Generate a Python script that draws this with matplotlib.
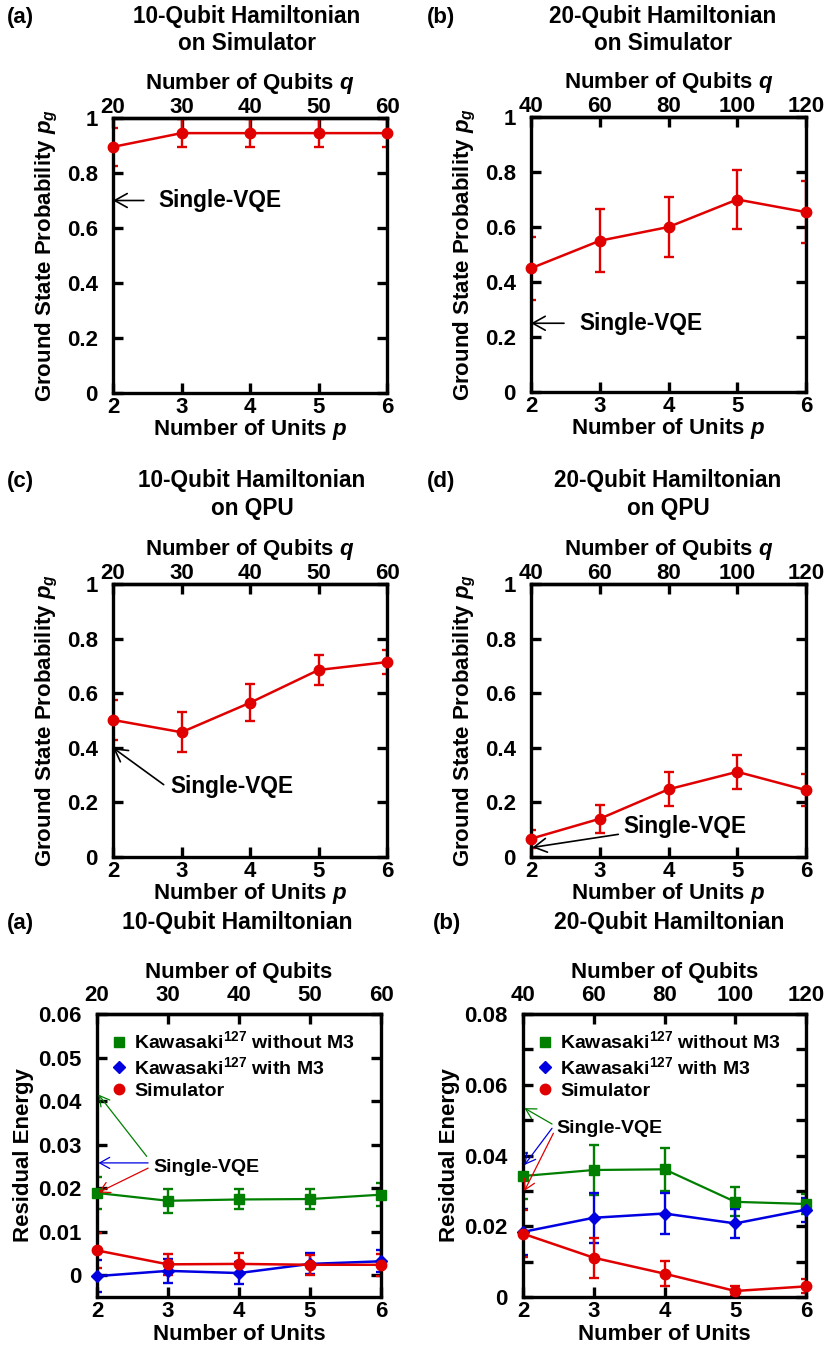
import matplotlib
matplotlib.use("Agg")
import matplotlib.pyplot as plt
from matplotlib.lines import Line2D
from matplotlib.ticker import MultipleLocator, FormatStrFormatter

plt.rcParams["font.family"] = "Liberation Sans"
plt.rcParams["font.weight"] = "bold"
plt.rcParams["axes.labelweight"] = "bold"
plt.rcParams["font.size"] = 16
plt.rcParams["mathtext.fontset"] = "custom"
plt.rcParams["mathtext.rm"] = "Liberation Sans:bold"
plt.rcParams["mathtext.it"] = "Liberation Sans:bold:italic"
plt.rcParams["mathtext.bf"] = "Liberation Sans:bold"
plt.rcParams["axes.linewidth"] = 2.4

RED = "#e00000"
GREEN = "#007f00"
BLUE = "#0000e0"

# number of units p
units = [2, 3, 4, 5, 6]

# ground state probability p_g
pg_sim_10 = [0.895, 0.945, 0.945, 0.945, 0.945]
pg_sim_10_err = [0.07, 0.05, 0.05, 0.05, 0.05]
pg_sim_20 = [0.45, 0.55, 0.60, 0.70, 0.654]
pg_sim_20_err = [0.115, 0.114, 0.11, 0.107, 0.112]
pg_qpu_10 = [0.502, 0.457, 0.565, 0.685, 0.714]
pg_qpu_10_err = [0.072, 0.074, 0.067, 0.056, 0.043]
pg_qpu_20 = [0.067, 0.14, 0.248, 0.312, 0.245]
pg_qpu_20_err = [0.033, 0.051, 0.062, 0.062, 0.06]

# single-VQE reference values (arrow targets)
single_pg = {"sim10": 0.70, "sim20": 0.25, "qpu10": 0.40, "qpu20": 0.035}

# residual energy, 10 qubit hamiltonian
re10_wo_m3 = [0.0189, 0.0171, 0.0174, 0.0175, 0.0185]
re10_wo_m3_err = [0.0036, 0.0028, 0.0023, 0.0023, 0.0026]
re10_w_m3 = [-0.0002, 0.0010, 0.0005, 0.0026, 0.0032]
re10_w_m3_err = [0.0036, 0.0028, 0.0026, 0.0024, 0.0025]
re10_sim = [0.0057, 0.0025, 0.0026, 0.0024, 0.0024]
re10_sim_err = [0.004, 0.0024, 0.0024, 0.0023, 0.0025]
single_re10 = [0.0415, 0.0258, 0.019]  # without M3, with M3, simulator

# residual energy, 20 qubit hamiltonian
re20_wo_m3 = [0.0342, 0.0359, 0.0361, 0.0269, 0.0263]
re20_wo_m3_err = [0.0065, 0.0071, 0.006, 0.0041, 0.0027]
re20_w_m3 = [0.0184, 0.0224, 0.0236, 0.0208, 0.0247]
re20_w_m3_err = [0.0066, 0.007, 0.0059, 0.0041, 0.0034]
re20_sim = [0.0179, 0.0111, 0.0066, 0.0017, 0.003]
re20_sim_err = [0.0067, 0.0057, 0.0036, 0.0013, 0.002]
single_re20 = [0.0534, 0.0373, 0.030]

W, H = 825, 1348
fig = plt.figure(figsize=(W / 100, H / 100), dpi=100)


def box(l, t, r, b):
    # pixel box -> figure fraction
    return [l / W, 1 - b / H, (r - l) / W, (b - t) / H]


def ftext(x, y, s, **kw):
    fig.text(x / W, 1 - y / H, s, va="center", **kw)


def style_axes(ax, qubits, top_pad):
    ax.set_xlim(2, 6)
    ax.set_xticks(units)
    ax.tick_params(direction="in", length=7.5, width=2.4, left=True, right=True,
                   top=False, pad=3)
    ax.tick_params(axis="y", pad=11)
    ax.tick_params(which="minor", direction="in", length=7.5, width=2.4,
                   left=True, right=True)
    sec = ax.secondary_xaxis("top", functions=(lambda p: p * qubits,
                                               lambda q: q / qubits))
    sec.set_xticks([u * qubits for u in units])
    sec.tick_params(direction="in", length=7.5, width=2.4, pad=top_pad)
    return sec


def draw_series(ax, y, err, color, marker, ms, lw=1.8):
    ax.errorbar(units, y, yerr=err, fmt="none", ecolor=color, elinewidth=1.7,
                capsize=3.5, capthick=1.7, zorder=2)
    ax.plot(units, y, color=color, marker=marker, markersize=ms, lw=lw,
            clip_on=False, zorder=3)


def arrow(ax, head, tail, color="black", lw=1.2, scale=20):
    ax.annotate("", xy=head, xytext=tail,
                arrowprops=dict(arrowstyle="->,head_length=0.45,head_width=0.25",
                                color=color, lw=lw, shrinkA=0, shrinkB=0,
                                mutation_scale=scale))


# ---- ground state probability panels ----
pg_panels = [
    ("(a)", "10-Qubit Hamiltonian", "on Simulator", 10, pg_sim_10, pg_sim_10_err, "sim10",
     (113, 118, 387, 393), 7, 247, 17),
    ("(b)", "20-Qubit Hamiltonian", "on Simulator", 20, pg_sim_20, pg_sim_20_err, "sim20",
     (531, 117, 806, 392), 427, 663, 17),
    ("(c)", "10-Qubit Hamiltonian", "on QPU", 10, pg_qpu_10, pg_qpu_10_err, "qpu10",
     (113, 584, 387, 857), 7, 252, 481),
    ("(d)", "20-Qubit Hamiltonian", "on QPU", 20, pg_qpu_20, pg_qpu_20_err, "qpu20",
     (531, 584, 806, 857), 427, 668, 481),
]
pg_axes = {}
for tag, t1, t2, nq, y, err, key, bx, tagx, titlex, titley in pg_panels:
    ax = fig.add_axes(box(*bx))
    sec = style_axes(ax, nq, 0)
    ax.set_ylim(0, 1)
    ax.set_yticks([0, 0.2, 0.4, 0.6, 0.8, 1.0])
    ax.yaxis.set_major_formatter(FormatStrFormatter("%g"))
    draw_series(ax, y, err, RED, "o", 7.5)
    ax.set_xlabel("Number of Units $p$", labelpad=-1)
    ax.set_ylabel("Ground State Probability $p_g$", labelpad=5)
    sec.set_xlabel("Number of Qubits $q$", labelpad=5.5)
    ftext(tagx, titley, tag, ha="left")
    ftext(titlex, titley, t1, ha="center", fontsize=16.3)
    ftext(titlex, titley + 27, t2, ha="center", fontsize=16.3)
    pg_axes[key] = ax

# single-VQE arrows on the p_g panels
ax = pg_axes["sim10"]
arrow(ax, (2, single_pg["sim10"]), (2.45, single_pg["sim10"]))
ax.text(2.66, single_pg["sim10"], "Single-VQE", va="center", ha="left", fontsize=16.3)
ax = pg_axes["sim20"]
arrow(ax, (2, single_pg["sim20"]), (2.48, single_pg["sim20"]))
ax.text(2.70, single_pg["sim20"], "Single-VQE", va="center", ha="left", fontsize=16.3)
ax = pg_axes["qpu10"]
arrow(ax, (2, single_pg["qpu10"]), (2.74, 0.265))
ax.text(2.84, 0.257, "Single-VQE", va="center", ha="left", fontsize=16.3)
ax = pg_axes["qpu20"]
arrow(ax, (2.02, single_pg["qpu20"]), (3.27, 0.083))
ax.text(3.35, 0.11, "Single-VQE", va="center", ha="left", fontsize=16.3)

# ---- residual energy panels ----
legend_handles = [
    Line2D([], [], color=GREEN, marker="s", ls="none", markersize=7.5),
    Line2D([], [], color=BLUE, marker="D", ls="none", markersize=6.5),
    Line2D([], [], color=RED, marker="o", ls="none", markersize=7.5),
]
legend_labels = ["Kawasaki$^{127}$ without M3", "Kawasaki$^{127}$ with M3", "Simulator"]

re_panels = [
    ("(a)", "10-Qubit Hamiltonian", 10, (97, 1014, 381, 1297), 7, 237,
     (re10_wo_m3, re10_wo_m3_err), (re10_w_m3, re10_w_m3_err), (re10_sim, re10_sim_err),
     (-0.005, 0.06), single_re10),
    ("(b)", "20-Qubit Hamiltonian", 20, (523, 1014, 806, 1297), 433, 669,
     (re20_wo_m3, re20_wo_m3_err), (re20_w_m3, re20_w_m3_err), (re20_sim, re20_sim_err),
     (0, 0.08), single_re20),
]
re_axes = []
for tag, t1, nq, bx, tagx, titlex, green, blue, red, ylim, single in re_panels:
    ax = fig.add_axes(box(*bx))
    sec = style_axes(ax, nq, 6)
    ax.set_ylim(*ylim)
    if nq == 10:
        ax.set_yticks([0, 0.01, 0.02, 0.03, 0.04, 0.05, 0.06])
    else:
        ax.set_yticks([0, 0.02, 0.04, 0.06, 0.08])
        ax.yaxis.set_minor_locator(MultipleLocator(0.01))
    ax.yaxis.set_major_formatter(FormatStrFormatter("%g"))
    draw_series(ax, green[0], green[1], GREEN, "s", 7.5, lw=1.6)
    draw_series(ax, blue[0], blue[1], BLUE, "D", 6.5)
    draw_series(ax, red[0], red[1], RED, "o", 7.5)
    ax.set_xlabel("Number of Units", labelpad=1)
    ax.set_ylabel("Residual Energy", labelpad=3)
    sec.set_xlabel("Number of Qubits", labelpad=5)
    ax.legend(legend_handles, legend_labels, loc="upper left", frameon=False,
              handlelength=0.6, handletextpad=0.45, labelspacing=0.2,
              borderaxespad=0.45, fontsize=14)
    ftext(tagx, 923, tag, ha="left")
    ftext(titlex, 923, t1, ha="center", fontsize=16.6)
    re_axes.append(ax)

# single-VQE arrows on the residual energy panels
ax = re_axes[0]
tails = [(2.70, 0.0273), (2.72, 0.0258), (2.72, 0.0246)]
for tail, yv, c in zip(tails, single_re10, [GREEN, BLUE, RED]):
    arrow(ax, (2.02, yv), tail, color=c, lw=0.9, scale=16)
ax.text(2.80, 0.0248, "Single-VQE", va="center", ha="left", fontsize=14)

ax = re_axes[1]
tails = [(2.41, 0.0489), (2.41, 0.0477), (2.43, 0.0463)]
for tail, yv, c in zip(tails, single_re20, [GREEN, BLUE, RED]):
    arrow(ax, (2.02, yv), tail, color=c, lw=0.9, scale=16)
ax.text(2.47, 0.0477, "Single-VQE", va="center", ha="left", fontsize=14)

fig.savefig("out.png", dpi=100)
